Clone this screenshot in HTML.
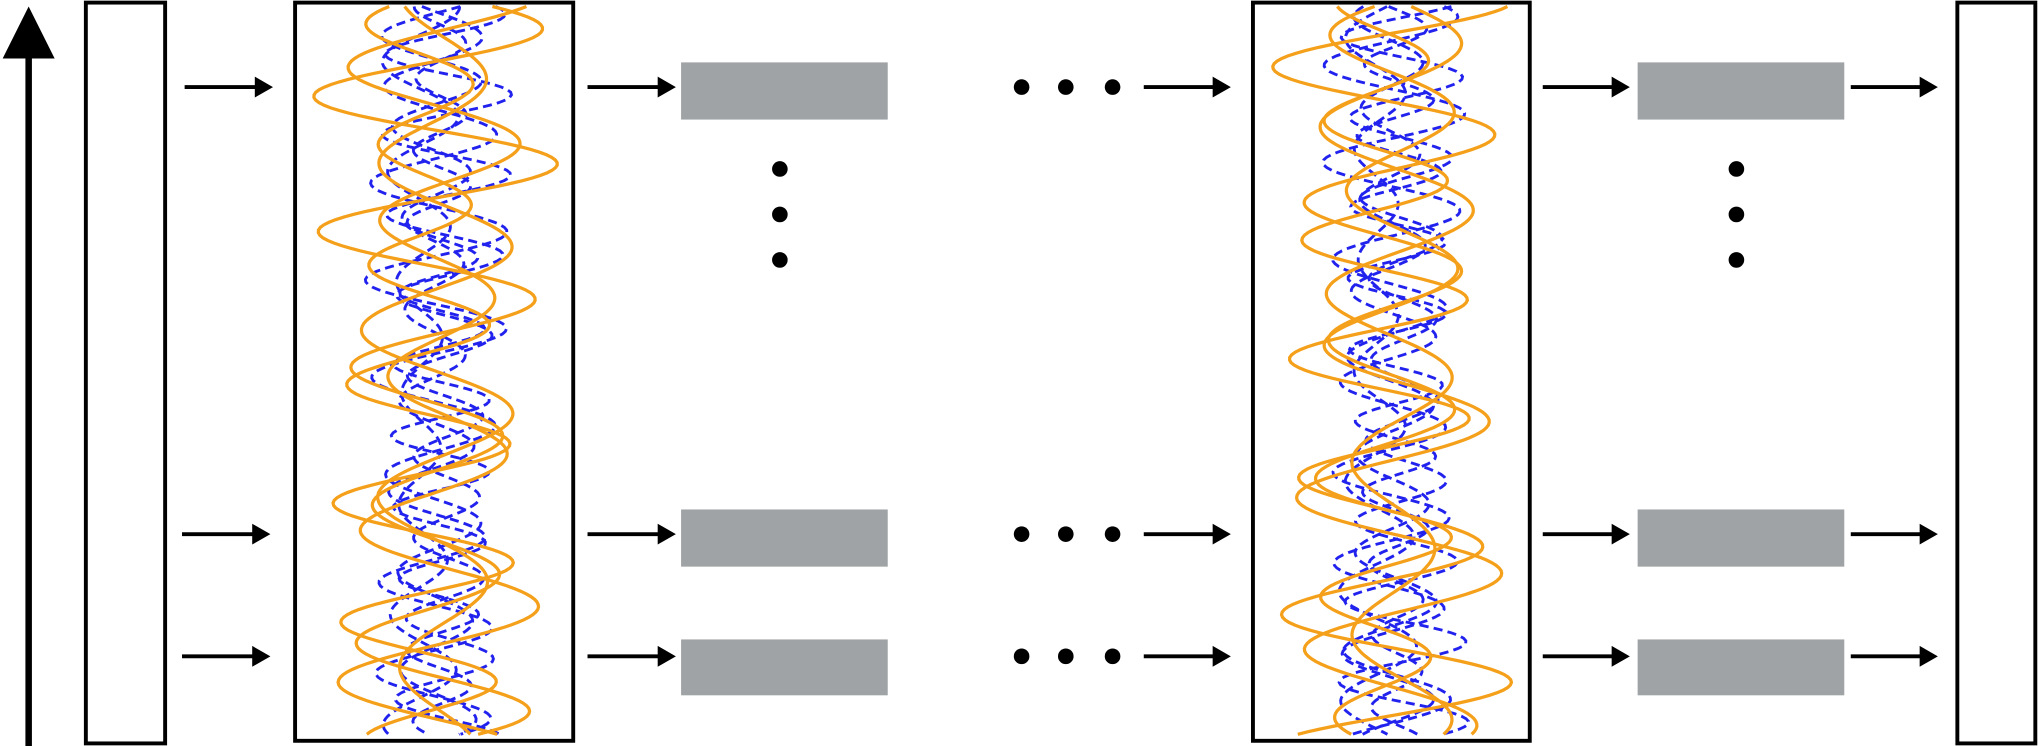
<!DOCTYPE html>
<html><head><meta charset="utf-8"><style>html,body{margin:0;padding:0;background:#fff}svg{display:block}</style></head>
<body>
<svg id="s" width="2038" height="746" viewBox="0 0 1568 574" xmlns="http://www.w3.org/2000/svg">
<defs><marker id="a" markerWidth="10" markerHeight="10" refX="9" refY="5" orient="auto" markerUnits="userSpaceOnUse"><path d="M0,0 L18,5 L0,10z" transform="scale(0.55,1)"/></marker></defs>
<g fill="none" stroke="#000" stroke-width="3">
<rect x="66" y="2" width="61" height="570"/>
<rect x="1506" y="2" width="60" height="570"/>
<line x1="22" y1="574" x2="22" y2="40" stroke-width="5"/>
</g>
<polygon points="2,45 42,45 22,5" fill="#000"/>
<g id="w1"></g><g id="w2"></g>
<g fill="none" stroke="#000" stroke-width="3">
<rect x="227" y="2" width="214" height="568"/>
<rect x="964" y="2" width="213" height="568"/>
</g>
<g fill="#a0a3a5">
<rect x="524" y="48" width="159" height="44"/><rect x="524" y="392" width="159" height="44"/><rect x="524" y="492" width="159" height="43"/>
<rect x="1260" y="48" width="159" height="44"/><rect x="1260" y="392" width="159" height="44"/><rect x="1260" y="492" width="159" height="43"/>
</g>
<g id="arr" stroke="#000" stroke-width="3"></g>
<g fill="#000">
<circle cx="600" cy="130" r="6"/><circle cx="600" cy="165" r="6"/><circle cx="600" cy="200" r="6"/>
<circle cx="1336" cy="130" r="6"/><circle cx="1336" cy="165" r="6"/><circle cx="1336" cy="200" r="6"/>
<circle cx="786" cy="67" r="6"/><circle cx="820" cy="67" r="6"/><circle cx="856" cy="67" r="6"/>
<circle cx="786" cy="411" r="6"/><circle cx="820" cy="411" r="6"/><circle cx="856" cy="411" r="6"/>
<circle cx="786" cy="505" r="6"/><circle cx="820" cy="505" r="6"/><circle cx="856" cy="505" r="6"/>
</g>
</svg>
<script>
var NS="http://www.w3.org/2000/svg";
function el(p,t,a){var e=document.createElementNS(NS,t);for(var k in a)e.setAttribute(k,a[k]);p.appendChild(e);return e;}
var arr=document.getElementById("arr");
[[142,210],[452,520],[880,947],[1187,1254],[1424,1491]].forEach(function(x,i){
 [67,411,505].forEach(function(y){
  var x1=x[0],x2=x[1]; if(i==0&&y!=67){x1=140;x2=208;}
  el(arr,"line",{x1:x1,y1:y,x2:x2-12,y2:y});
  el(arr,"polygon",{points:(x2-14)+","+(y-8)+" "+x2+","+y+" "+(x2-14)+","+(y+8),fill:"#000",stroke:"none"});
 });
});
function waves(g,cx,seed){
 var O=[[95,105,0.3,0],[80,118,1.9,6],[70,92,3.4,-8],[60,130,5.0,4]];
 var B=[[50,62,0.5,10],[45,70,2.2,0],[38,55,4.1,5],[30,85,1.2,-10],[55,75,5.5,2]];
 function path(amp,per,ph,off,cw){
  var d="";for(var y=5;y<=566;y+=2){var a=amp*(0.75+0.25*Math.sin(y/90+ph+seed));var x=cx+off+a*Math.sin(2*Math.PI*y/per+ph+seed);x=Math.max(cx-100,Math.min(cx+100,x));d+=(y==5?"M":"L")+x.toFixed(1)+","+y+" ";}return d;}
 B.forEach(function(p){el(g,"path",{d:path(p[0],p[1],p[2],p[3]),stroke:"#2222ee","stroke-width":2.2,"stroke-dasharray":"7 4",fill:"none"});});
 O.forEach(function(p){el(g,"path",{d:path(p[0],p[1],p[2],p[3]),stroke:"#f5a01a","stroke-width":2.5,fill:"none"});});
}
waves(document.getElementById("w1"),334,0);
waves(document.getElementById("w2"),1070,1.3);
</script>
</body></html>
